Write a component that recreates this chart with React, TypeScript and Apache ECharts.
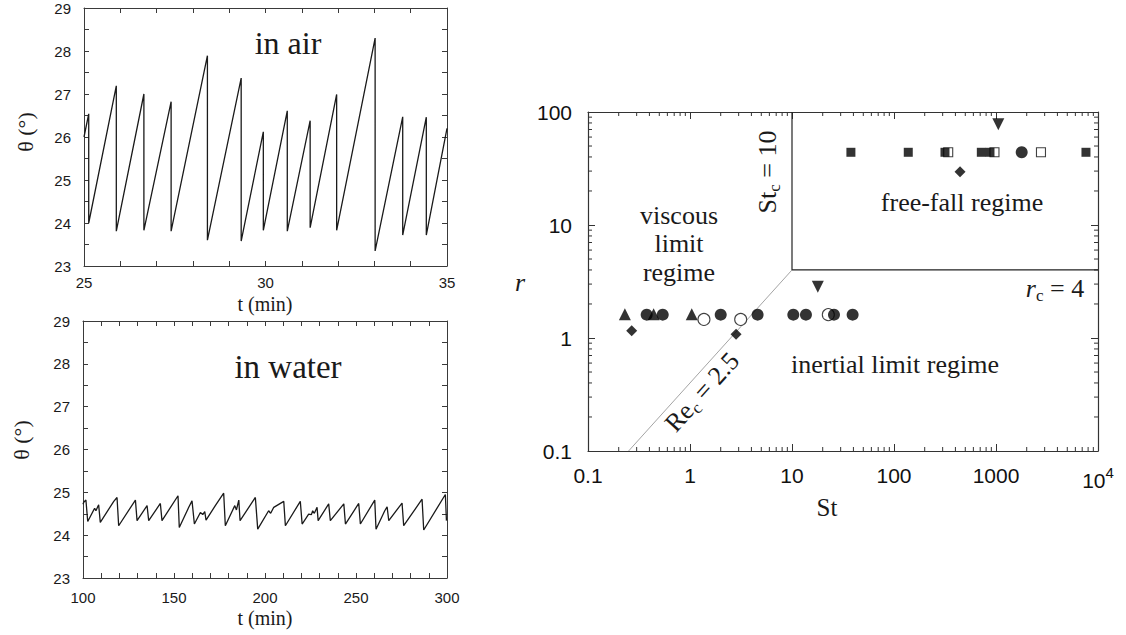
import React, { useEffect, useRef } from 'react';
import * as echarts from 'echarts';

// ---------- data ----------
// Panel (a): in air, t (min) vs theta (deg)
const airT = [25.0, 25.13, 25.13, 25.89, 25.89, 26.65, 26.65, 27.4, 27.4, 28.4, 28.4, 29.33, 29.33, 29.94, 29.94, 30.6, 30.6, 31.23, 31.23, 31.96, 31.96, 33.02, 33.02, 33.78, 33.78, 34.43, 34.43, 35.0];
const airTheta = [26.0, 26.54, 24.0, 27.19, 23.81, 27.0, 23.83, 26.82, 23.81, 27.89, 23.6, 27.37, 23.58, 26.12, 23.83, 26.61, 23.81, 26.38, 23.89, 26.99, 23.83, 28.3, 23.35, 26.47, 23.72, 26.46, 23.72, 26.2];

// Panel (b): in water
const waterT = [100.0, 100.4, 101.6, 102.6, 106.4, 107.1, 108.6, 109.5, 116.9, 118.7, 119.6, 128.8, 129.7, 135.2, 136.1, 142.5, 143.4, 152.2, 152.9, 158.1, 159.9, 161.2, 164.5, 165.8, 166.9, 167.6, 172.7, 177.3, 178.2, 183.4, 184.3, 185.6, 186.3, 194.7, 196.0, 202.0, 203.1, 204.8, 210.3, 211.2, 219.4, 220.4, 224.0, 225.5, 226.2, 227.1, 228.6, 229.2, 235.0, 235.9, 243.3, 244.2, 251.5, 252.4, 260.3, 261.0, 265.8, 267.1, 268.0, 275.3, 276.2, 286.3, 287.2, 299.1, 299.7];
const waterTheta = [24.72, 24.77, 24.82, 24.32, 24.63, 24.57, 24.71, 24.3, 24.79, 24.88, 24.22, 24.82, 24.34, 24.69, 24.34, 24.74, 24.34, 24.92, 24.18, 24.65, 24.8, 24.26, 24.53, 24.48, 24.55, 24.35, 24.69, 24.98, 24.22, 24.69, 24.59, 24.82, 24.34, 24.88, 24.14, 24.57, 24.51, 24.65, 24.79, 24.22, 24.79, 24.26, 24.49, 24.48, 24.57, 24.51, 24.65, 24.34, 24.73, 24.34, 24.73, 24.26, 24.74, 24.26, 24.82, 24.14, 24.57, 24.66, 24.34, 24.75, 24.22, 24.84, 24.12, 24.95, 24.34];

// Panel (c): regime diagram, St vs r
const filledCircleSt = [0.376, 0.54, 2.0, 4.6, 10.3, 13.7, 25.8, 39.3, 1786];
const filledCircleR = [1.61, 1.61, 1.61, 1.61, 1.61, 1.61, 1.61, 1.61, 44];
const openCircleSt = [1.37, 3.14, 22.7];
const openCircleR = [1.46, 1.46, 1.61];
const triangleSt = [0.23, 0.44, 1.04];
const triangleR = [1.62, 1.62, 1.62];
const invTriangleSt = [17.9, 1054];
const invTriangleR = [2.84, 78];
const diamondSt = [0.268, 2.83, 444];
const diamondR = [1.16, 1.08, 29.6];
const filledSquareSt = [37.8, 138, 316, 718, 873, 7620];
const filledSquareR = [44, 44, 44, 44, 44, 44];
const openSquareSt = [340, 966, 2760];
const openSquareR = [44, 44, 44];

// regime boundaries: St_c = 10, r_c = 4, Re_c = St / r = 2.5
const freeFallBoxSt = [10, 10, 10000];
const freeFallBoxR = [100, 4, 4];
const reLineSt = [0.25, 10];
const reLineR = [0.1, 4];

// tick labels
const stTickLabels = ['0.1', '1', '10', '100', '1000', '10{sup|4}'];
const rTickLabels = ['0.1', '1', '10', '100'];
const stDecades = [0.1, 1, 10, 100, 1000];
const rDecades = [0.1, 1, 10];

// ---------- helpers ----------
const zip = (a: number[], b: number[]) => a.map((v, i) => [v, b[i]]);
const ink = '#1a1a1a';
const axisGray = '#3a3a3a';
const serif = 'Liberation Serif';
const sans = 'Liberation Sans';

const minorTickData: number[][] = [];
stDecades.forEach((d) => { for (let k = 2; k <= 9; k++) minorTickData.push([k * d, 1, 0]); });
rDecades.forEach((d) => { for (let k = 2; k <= 9; k++) minorTickData.push([1, k * d, 1]); });

function linX(grid: number, pos: 'bottom' | 'top', min: number, max: number, interval: number, labelEvery: number, margin: number) {
  return {
    type: 'value', gridIndex: grid, position: pos, min, max, interval,
    axisLine: { show: true, onZero: false, lineStyle: { color: axisGray, width: 1 } },
    axisTick: { show: true, inside: true, length: 5, lineStyle: { color: axisGray } },
    splitLine: { show: false },
    axisLabel: pos === 'bottom'
      ? { show: true, margin, fontFamily: sans, fontSize: 15, color: ink, formatter: (v: number) => (Math.abs(v / labelEvery - Math.round(v / labelEvery)) < 1e-6 ? String(v) : '') }
      : { show: false },
  };
}
function linY(grid: number, pos: 'left' | 'right') {
  return {
    type: 'value', gridIndex: grid, position: pos, min: 23, max: 29, interval: 0.5,
    axisLine: { show: true, onZero: false, lineStyle: { color: axisGray, width: 1 } },
    axisTick: { show: true, inside: true, length: 5, lineStyle: { color: axisGray } },
    splitLine: { show: false },
    axisLabel: pos === 'left'
      ? { show: true, margin: 13, fontFamily: sans, fontSize: 15, color: ink, formatter: (v: number) => (Number.isInteger(v) ? String(v) : '') }
      : { show: false },
  };
}
function logAxis(kind: 'x' | 'y', pos: string, min: number, max: number, labels: string[] | null) {
  return {
    type: 'log', logBase: 10, gridIndex: 2, position: pos, min, max,
    axisLine: { show: true, onZero: false, lineStyle: { color: '#333', width: 1.2 } },
    axisTick: { show: true, inside: true, length: 7, lineStyle: { color: '#333' } },
    splitLine: { show: false },
    axisLabel: labels
      ? {
          show: true, margin: kind === 'x' ? 14 : 16, fontFamily: sans, fontSize: 21, color: '#111',
          formatter: (v: number) => labels[Math.round(Math.log10(v)) + 1],
          rich: { sup: { fontSize: 15, fontFamily: sans, color: '#111', padding: [0, 0, 16, 0] } },
        }
      : { show: false },
  };
}

const scatterBase = { type: 'scatter', xAxisIndex: 4, yAxisIndex: 4, clip: false };

const option: any = {
  animation: false,
  backgroundColor: '#fff',
  grid: [
    { left: 84, top: 8, width: 363, height: 258 },
    { left: 83, top: 321, width: 364, height: 257 },
    { left: 588, top: 112, width: 510, height: 339 },
  ],
  xAxis: [
    linX(0, 'bottom', 25, 35, 1, 5, 9),
    linX(0, 'top', 25, 35, 1, 5, 9),
    linX(1, 'bottom', 100, 300, 10, 50, 12),
    linX(1, 'top', 100, 300, 10, 50, 12),
    logAxis('x', 'bottom', 0.1, 10000, stTickLabels),
    logAxis('x', 'top', 0.1, 10000, null),
  ],
  yAxis: [
    linY(0, 'left'),
    linY(0, 'right'),
    linY(1, 'left'),
    linY(1, 'right'),
    logAxis('y', 'left', 0.1, 100, rTickLabels),
    logAxis('y', 'right', 0.1, 100, null),
  ],
  series: [
    { type: 'line', xAxisIndex: 0, yAxisIndex: 0, data: zip(airT, airTheta), symbol: 'none', lineStyle: { color: ink, width: 1.3 } },
    { type: 'line', xAxisIndex: 2, yAxisIndex: 2, data: zip(waterT, waterTheta), symbol: 'none', lineStyle: { color: ink, width: 1.3 } },
    { type: 'line', xAxisIndex: 4, yAxisIndex: 4, data: zip(freeFallBoxSt, freeFallBoxR), symbol: 'none', lineStyle: { color: '#222', width: 1.2 } },
    { type: 'line', xAxisIndex: 4, yAxisIndex: 4, data: zip(reLineSt, reLineR), symbol: 'none', lineStyle: { color: '#9a9a9a', width: 0.9 } },
    {
      type: 'custom', xAxisIndex: 4, yAxisIndex: 4, data: minorTickData, encode: { x: 0, y: 1 }, clip: false, silent: true,
      renderItem: (params: any, api: any) => {
        const v0 = api.value(0);
        const v1 = api.value(1);
        const kind = api.value(2);
        const st = { stroke: '#333', lineWidth: 1 };
        if (kind === 0) {
          const b = api.coord([v0, 0.1]);
          const t = api.coord([v0, 100]);
          return { type: 'group', children: [
            { type: 'line', shape: { x1: b[0], y1: b[1], x2: b[0], y2: b[1] - 4 }, style: st },
            { type: 'line', shape: { x1: t[0], y1: t[1], x2: t[0], y2: t[1] + 4 }, style: st },
          ] };
        }
        const l = api.coord([0.1, v1]);
        const r = api.coord([10000, v1]);
        return { type: 'group', children: [
          { type: 'line', shape: { x1: l[0], y1: l[1], x2: l[0] + 4, y2: l[1] }, style: st },
          { type: 'line', shape: { x1: r[0], y1: r[1], x2: r[0] - 4, y2: r[1] }, style: st },
        ] };
      },
    },
    { ...scatterBase, z: 2, data: zip(openSquareSt, openSquareR), symbol: 'rect', symbolSize: 9, itemStyle: { color: '#fff', borderColor: '#111', borderWidth: 1.1 } },
    { ...scatterBase, z: 3, data: zip(filledSquareSt, filledSquareR), symbol: 'rect', symbolSize: 9, itemStyle: { color: '#000' } },
    { ...scatterBase, z: 2, data: zip(triangleSt, triangleR), symbol: 'triangle', symbolSize: 12, itemStyle: { color: '#000' } },
    { ...scatterBase, z: 3, data: zip(openCircleSt, openCircleR), symbol: 'circle', symbolSize: 12, itemStyle: { color: '#fff', borderColor: '#111', borderWidth: 1.1 } },
    { ...scatterBase, z: 4, data: zip(filledCircleSt, filledCircleR), symbol: 'circle', symbolSize: 12, itemStyle: { color: '#000' } },
    { ...scatterBase, z: 4, data: zip(diamondSt, diamondR), symbol: 'diamond', symbolSize: 11, itemStyle: { color: '#000' } },
    { ...scatterBase, z: 4, data: zip(invTriangleSt, invTriangleR), symbol: 'triangle', symbolRotate: 180, symbolSize: 12, itemStyle: { color: '#000' } },
  ],
  graphic: [
    { type: 'text', x: 288, y: 43, style: { text: 'in air', fontFamily: serif, fontSize: 32, fill: ink, align: 'center', verticalAlign: 'middle' } },
    { type: 'text', x: 288, y: 367, style: { text: 'in water', fontFamily: serif, fontSize: 33, fill: ink, align: 'center', verticalAlign: 'middle' } },
    { type: 'text', x: 265, y: 304, style: { text: 't (min)', fontFamily: serif, fontSize: 20, fill: ink, align: 'center', verticalAlign: 'middle' } },
    { type: 'text', x: 265, y: 618, style: { text: 't (min)', fontFamily: serif, fontSize: 20, fill: ink, align: 'center', verticalAlign: 'middle' } },
    { type: 'text', x: 25, y: 132, rotation: Math.PI / 2, style: { text: 'θ (°)', fontFamily: serif, fontSize: 22, fill: ink, align: 'center', verticalAlign: 'middle' } },
    { type: 'text', x: 21, y: 440, rotation: Math.PI / 2, style: { text: 'θ (°)', fontFamily: serif, fontSize: 22, fill: ink, align: 'center', verticalAlign: 'middle' } },
    { type: 'text', x: 679, y: 215, style: { text: 'viscous', fontFamily: serif, fontSize: 26, fill: ink, align: 'center', verticalAlign: 'middle' } },
    { type: 'text', x: 679, y: 243, style: { text: 'limit', fontFamily: serif, fontSize: 26, fill: ink, align: 'center', verticalAlign: 'middle' } },
    { type: 'text', x: 679, y: 272, style: { text: 'regime', fontFamily: serif, fontSize: 26, fill: ink, align: 'center', verticalAlign: 'middle' } },
    { type: 'text', x: 962, y: 202, style: { text: 'free-fall regime', fontFamily: serif, fontSize: 26, fill: ink, align: 'center', verticalAlign: 'middle' } },
    { type: 'text', x: 895, y: 364, style: { text: 'inertial limit regime', fontFamily: serif, fontSize: 26, fill: ink, align: 'center', verticalAlign: 'middle' } },
    {
      type: 'text', x: 767, y: 172, rotation: Math.PI / 2,
      style: {
        text: 'St{sub|c} = 10', fontFamily: serif, fontSize: 26, fill: ink, align: 'center', verticalAlign: 'middle',
        rich: { sub: { fontFamily: serif, fontSize: 17, fill: ink, padding: [14, 0, 0, 0] } },
      },
    },
    {
      type: 'text', x: 1055, y: 288,
      style: {
        text: '{i|r}{sub|c} = 4', fontFamily: serif, fontSize: 26, fill: ink, align: 'center', verticalAlign: 'middle',
        rich: { i: { fontFamily: serif, fontStyle: 'italic', fontSize: 26, fill: ink }, sub: { fontFamily: serif, fontSize: 17, fill: ink, padding: [14, 0, 0, 0] } },
      },
    },
    {
      type: 'text', x: 702, y: 392, rotation: (48 * Math.PI) / 180,
      style: {
        text: 'Re{sub|c} = 2.5', fontFamily: serif, fontSize: 26, fill: ink, align: 'center', verticalAlign: 'middle',
        rich: { sub: { fontFamily: serif, fontSize: 17, fill: ink, padding: [14, 0, 0, 0] } },
      },
    },
    { type: 'text', x: 827, y: 507, style: { text: 'St', fontFamily: serif, fontSize: 25, fill: ink, align: 'center', verticalAlign: 'middle' } },
    { type: 'text', x: 520, y: 282, style: { text: 'r', fontFamily: serif, fontStyle: 'italic', fontSize: 26, fill: ink, align: 'center', verticalAlign: 'middle' } },
  ],
};

export default function App() {
  const ref = useRef<HTMLDivElement>(null);
  useEffect(() => {
    const chart = echarts.init(ref.current as HTMLDivElement, null, { renderer: 'svg' });
    chart.setOption(option);
    return () => chart.dispose();
  }, []);
  return <div ref={ref} style={{ position: 'fixed', left: 0, top: 0, width: 1126, height: 635, background: '#fff' }} />;
}
